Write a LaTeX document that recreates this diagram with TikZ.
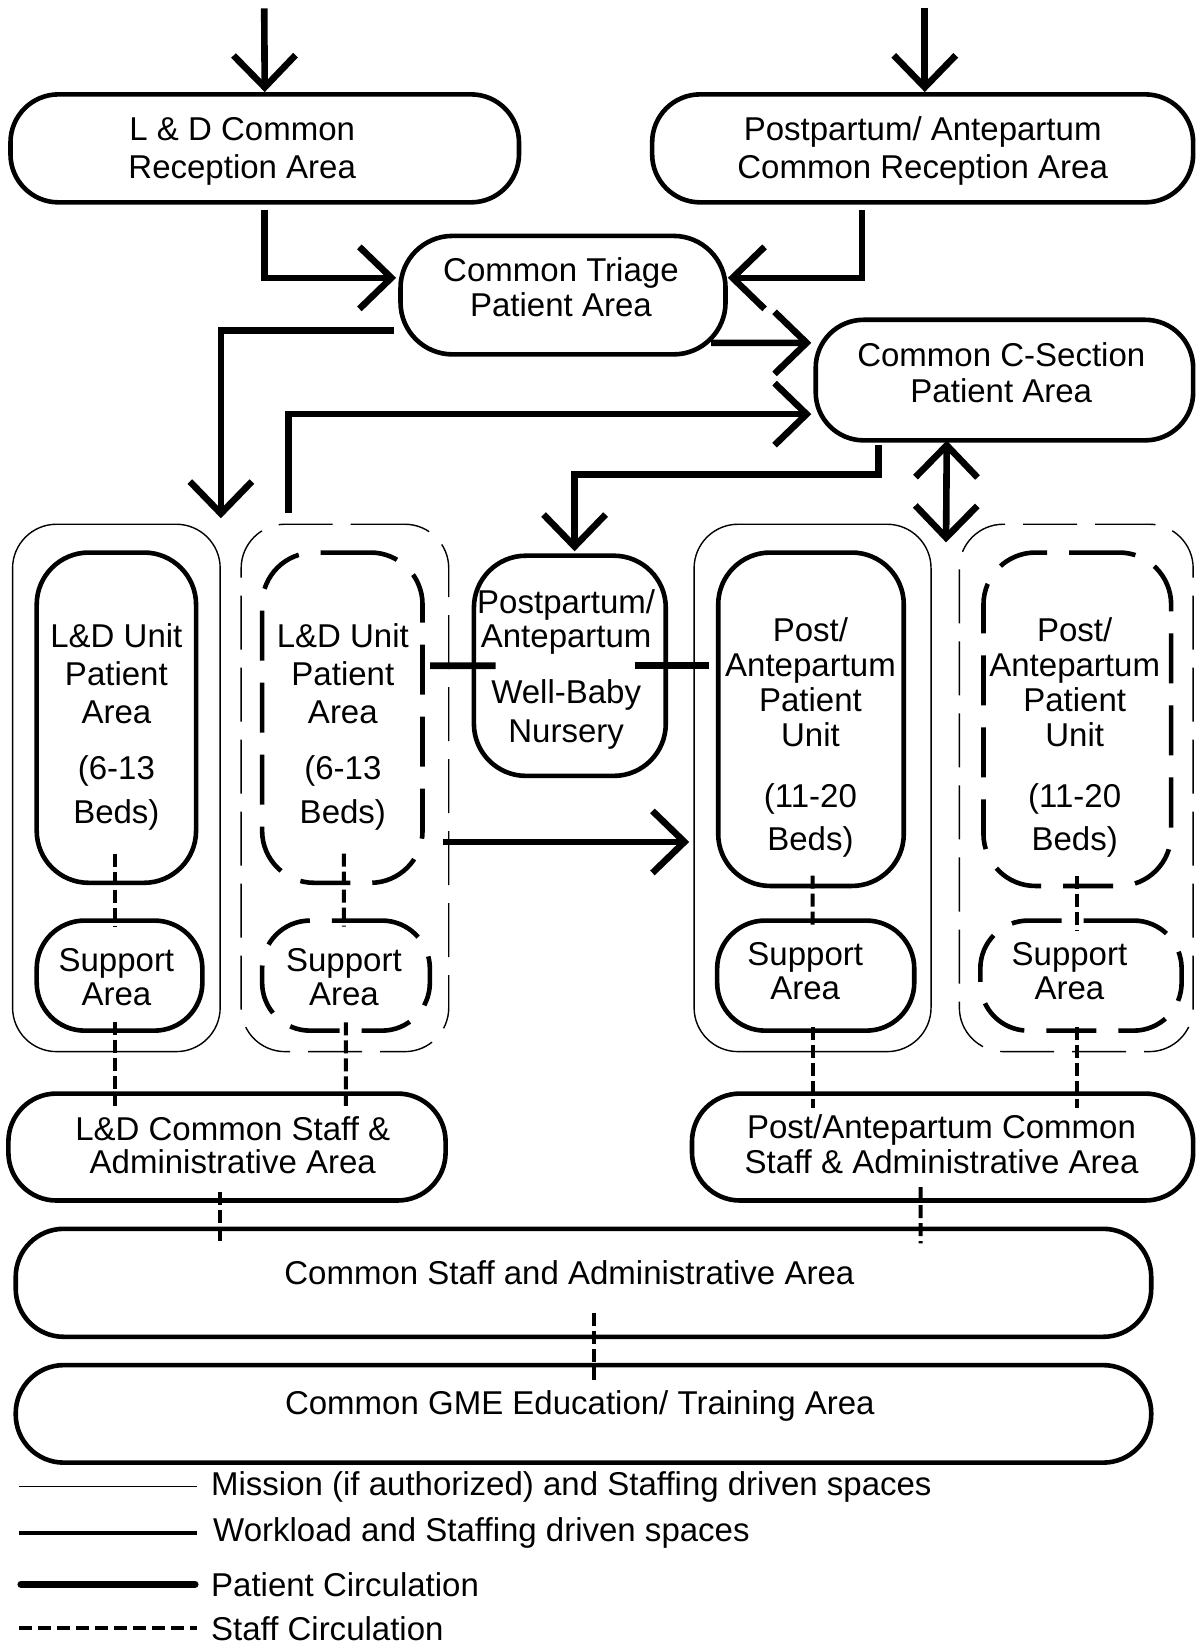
\documentclass[tikz,border=0pt]{standalone}
\usepackage{fontspec}
\setmainfont{Liberation Sans}
\usetikzlibrary{arrows.meta,fit,calc}
\begin{document}
\begin{tikzpicture}[x=0.5241pt,y=-0.5241pt,
  every node/.style={font=\fontsize{16.5}{19}\selectfont},
  wl/.style={draw, line width=2.3pt, rounded corners=24pt, inner sep=0pt},
  wld/.style={wl, dash pattern=on 25pt off 11pt},
  ms/.style={draw, line width=0.7pt, rounded corners=22pt, inner sep=0pt},
  msd/.style={ms, dash pattern=on 27pt off 9pt},
  barb/.tip={Straight Barb[length=16pt,width=31pt]},
  pc/.style={line width=3.3pt, -barb},
  pcl/.style={line width=3.3pt},
  staff/.style={line width=2pt, dash pattern=on 6.5pt off 2.5pt},
  txt/.style={align=center, inner sep=0pt}
]
\path[use as bounding box] (0,0) rectangle (1140,1568);

% ---- top boxes
\node[wl, fit={(10,90) (495,193)}] (ldrec) {};
\node[txt] (ldrect) at (231,144) {L \& D Common\\Reception Area};
\node[wl, fit={(622,90) (1138,193)}] (pprec) {};
\node[txt] (pprect) at (880,144) {Postpartum/ Antepartum\\Common Reception Area};
\node[wl, rounded corners=26pt, fit={(382,225) (692,338)}] (triage) {};
\node[txt, font=\fontsize{16.5}{17.5}\selectfont] (triaget) at (535,273.5) {Common Triage\\Patient Area};
\node[wl, fit={(778,305) (1138,420)}] (csec) {};
\node[txt, font=\fontsize{16.5}{18}\selectfont] (csect) at (955,355) {Common C-Section\\Patient Area};

% ---- groups
\node[ms, fit={(12,500) (210,1003)}] (g1) {};
\node[msd, fit={(230,500) (428,1003)}] (g2) {};
\node[ms, fit={(662,500) (888,1003)}] (g3) {};
\node[msd, fit={(915,500) (1138,1003)}] (g4) {};

% ---- units
\node[wl, rounded corners=26pt, fit={(35,527) (187,842)}] (u1) {};
\node[txt] (u1t) at (111,693) {L\&D Unit\\Patient\\Area\\[9pt](6-13\\[3pt]Beds)};
\node[wld, rounded corners=26pt, fit={(250,527) (403,842)}] (u2) {};
\node[txt] (u2t) at (327,693) {L\&D Unit\\Patient\\Area\\[9pt](6-13\\[3pt]Beds)};
\node[wl, rounded corners=26pt, fit={(685,527) (862,845)}] (u3) {};
\node[txt, font=\fontsize{16.5}{17.5}\selectfont] (u3t) at (773,703) {Post/\\Antepartum\\Patient\\Unit\\[13pt](11-20\\[4pt]Beds)};
\node[wld, rounded corners=26pt, fit={(938,527) (1117,845)}] (u4) {};
\node[txt, font=\fontsize{16.5}{17.5}\selectfont] (u4t) at (1025,703) {Post/\\Antepartum\\Patient\\Unit\\[13pt](11-20\\[4pt]Beds)};
\node[wl, rounded corners=26pt, fit={(452,530) (635,740)}] (nur) {};
\node[txt, font=\fontsize{16.5}{17}\selectfont] (nurt) at (540,638.5) {Postpartum/\\Antepartum\\[11pt]Well-Baby\\[2pt]Nursery};

% ---- support
\node[wl, fit={(35,878) (193,983)}] (s1) {};
\node[txt] (s1t) at (111,932) {Support\\[-2pt]Area};
\node[wld, fit={(250,878) (410,983)}] (s2) {};
\node[txt] (s2t) at (328,932) {Support\\[-2pt]Area};
\node[wl, fit={(684,878) (872,983)}] (s3) {};
\node[txt] (s3t) at (768,926) {Support\\[-2pt]Area};
\node[wld, fit={(935,878) (1127,983)}] (s4) {};
\node[txt] (s4t) at (1020,926) {Support\\[-2pt]Area};

% ---- staff boxes
\node[wl, fit={(8,1043) (425,1145)}] (st1) {};
\node[txt, font=\fontsize{16.5}{16.5}\selectfont] (st1t) at (222,1092.5) {L\&D Common Staff \&\\Administrative Area};
\node[wl, fit={(660,1043) (1138,1145)}] (st2) {};
\node[txt, font=\fontsize{16.5}{17.5}\selectfont] (st2t) at (898,1091) {Post/Antepartum Common\\Staff \& Administrative Area};
\node[wl, fit={(15,1172) (1098,1275)}] (cs) {};
\node[txt] (cst) at (543,1214) {Common Staff and Administrative Area};
\node[wl, fit={(15,1302) (1098,1395)}] (gme) {};
\node[txt] (gmet) at (553,1341) {Common GME Education/ Training Area};

% ---- patient circulation
\coordinate (in1) at (252,8);
\coordinate (in2) at (882,8);
\draw[pc] (in1) -- (ldrec.north);
\draw[pc] (in2) -- ($(pprec.north)+(2,0)$);
\draw[pc] ($(ldrec.south)+(0,5)$) |- ($(triage.west)+(-2,-16.5)$);
\draw[pc] ($(pprec.south)+(-58,5)$) |- ($(triage.east)+(0,-16.5)$);
\draw[pc] ($(triage.east)+(-16,45.5)$) -- ($(csec.west)+(-2,-35.5)$);
\draw[pc] ($(triage.west)+(-4,33.5)$) -| ($(g1.north east)+(0,-5)$);
\draw[pc] ($(g2.north)+(-54,-10)$) |- ($(csec.west)+(-2,32.5)$);
\draw[pc] ($(csec.south)+(-120,2)$) |- ($(nur.north)+(4.5,-75)$) -- ($(nur.north)+(4.5,-2)$);
\draw[line width=3.3pt, barb-barb] ($(csec.south)+(-55,-2)$) -- ($(g4.north west)+(-12,18)$);
\draw[pc] ($(u2.east)+(17,118.5)$) -- ($(g3.west)+(-4,51.5)$);
\draw[pcl] ($(u2.east)+(5,-49.5)$) -- ($(nur.west)+(23,0)$);
\draw[pcl] ($(nur.east)+(-32,0)$) -- ($(u3.west)+(-7,-51)$);

% ---- staff circulation
\draw[staff] ($(u1.south)+(-1,-30)$) -- ($(s1.north)+(-4,8)$);
\draw[staff] ($(s1.south)+(-4,-10)$) -- ($(st1.north)+(-106.5,14)$);
\draw[staff] ($(u2.south)+(1.5,-30)$) -- ($(s2.north)+(-2,8)$);
\draw[staff] ($(s2.south)+(0,-10)$) -- ($(st1.north)+(113.5,14)$);
\draw[staff] ($(u3.south)+(1.5,-12)$) -- ($(s3.north)+(-3,8)$);
\draw[staff] ($(s3.south)+(-3,-6)$) -- ($(st2.north)+(-124,16)$);
\draw[staff] ($(u4.south)+(-0.5,-12)$) -- ($(s4.north)+(-4,12)$);
\draw[staff] ($(s4.south)+(-4,-6)$) -- ($(st2.north)+(128,16)$);
\draw[staff] ($(st1.south)+(-6.5,-10)$) -- ($(cs.north)+(-346.5,18)$);
\draw[staff] ($(st2.south)+(-21,-15)$) -- ($(cs.north)+(321.5,16)$);
\draw[staff] ($(cs.south)+(10.5,-25)$) -- ($(gme.north)+(10.5,20)$);

% ---- legend
\draw[line width=0.7pt] (18,1418) -- (188,1418);
\node[anchor=west, inner sep=0pt] (lg1) at (201,1418) {Mission (if authorized) and Staffing driven spaces};
\draw[line width=2.3pt] (18,1462) -- (188,1462);
\node[anchor=west, inner sep=0pt] (lg2) at (203,1462) {Workload and Staffing driven spaces};
\draw[line width=3.5pt, line cap=round] (20,1511) -- (186,1511);
\node[anchor=west, inner sep=0pt] (lg3) at (201,1511) {Patient Circulation};
\draw[line width=1.8pt, dash pattern=on 6.5pt off 3pt] (18,1553) -- (188,1553);
\node[anchor=west, inner sep=0pt] (lg4) at (201,1553) {Staff Circulation};
\end{tikzpicture}
\end{document}
